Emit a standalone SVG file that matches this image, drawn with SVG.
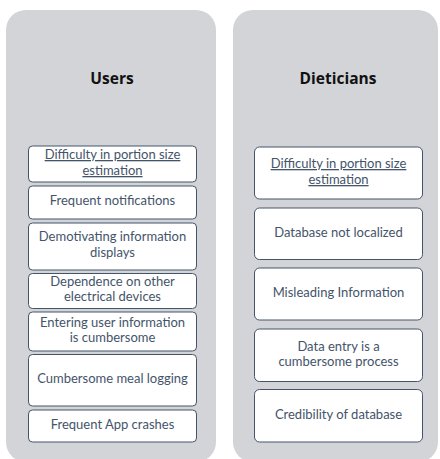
<svg xmlns="http://www.w3.org/2000/svg" width="440" height="459" viewBox="0 0 440 459">
<style>
.panel{fill:#d2d4d8;stroke:none}
.box{fill:#ffffff;stroke:#44546a;stroke-width:1}
.t{font-family:Lato,"Open Sans",sans-serif;font-size:13px;fill:#44546a;text-anchor:middle}
.u{text-decoration:underline}
.h{font-family:"Open Sans",Lato,sans-serif;font-size:15.5px;font-weight:bold;fill:#111111;text-anchor:middle}
</style>
<rect width="440" height="459" fill="#ffffff"/>
<g id="panel-users">
<rect class="panel" x="6" y="10" width="210" height="452" rx="20"/>
<text class="h" x="112" y="84">Users</text>
</g>
<g id="panel-dieticians">
<rect class="panel" x="233" y="10" width="205" height="452" rx="20"/>
<text class="h" x="338" y="84">Dieticians</text>
</g>
<g id="u1"><rect class="box" x="28.5" y="146" width="168" height="36" rx="4"/>
<text class="t u" x="112.5" y="159">Difficulty in portion size</text><text class="t u" x="112.5" y="175">estimation</text></g>
<g id="u2"><rect class="box" x="28.5" y="186" width="168" height="33" rx="4"/>
<text class="t" x="112.5" y="205">Frequent notifications</text></g>
<g id="u3"><rect class="box" x="28.5" y="223" width="168" height="47" rx="4"/>
<text class="t" x="112.5" y="241">Demotivating information</text><text class="t" x="112.5" y="257">displays</text></g>
<g id="u4"><rect class="box" x="28.5" y="273.5" width="168" height="35" rx="4"/>
<text class="t" x="112.5" y="286">Dependence on other</text><text class="t" x="112.5" y="301">electrical devices</text></g>
<g id="u5"><rect class="box" x="28.5" y="312" width="168" height="39" rx="4"/>
<text class="t" x="112.5" y="327">Entering user information</text><text class="t" x="112.5" y="342">is cumbersome</text></g>
<g id="u6"><rect class="box" x="28.5" y="354.5" width="168" height="51.5" rx="4"/>
<text class="t" x="112.5" y="383">Cumbersome meal logging</text></g>
<g id="u7"><rect class="box" x="28.5" y="410" width="168" height="32" rx="4"/>
<text class="t" x="112.5" y="429">Frequent App crashes</text></g>
<g id="d1"><rect class="box" x="254.5" y="147" width="168" height="52" rx="5"/>
<text class="t u" x="338.5" y="168">Difficulty in portion size</text><text class="t u" x="338.5" y="184">estimation</text></g>
<g id="d2"><rect class="box" x="254.5" y="208" width="168" height="51.5" rx="5"/>
<text class="t" x="338.5" y="237">Database not localized</text></g>
<g id="d3"><rect class="box" x="254.5" y="268" width="168" height="52" rx="5"/>
<text class="t" x="338.5" y="297">Misleading Information</text></g>
<g id="d4"><rect class="box" x="254.5" y="329" width="168" height="52.5" rx="5"/>
<text class="t" x="338.5" y="351">Data entry is a</text><text class="t" x="338.5" y="366">cumbersome process</text></g>
<g id="d5"><rect class="box" x="254.5" y="389.5" width="168" height="52.5" rx="5"/>
<text class="t" x="338.5" y="419">Credibility of database</text></g>
<g id="connectors"></g>
</svg>
